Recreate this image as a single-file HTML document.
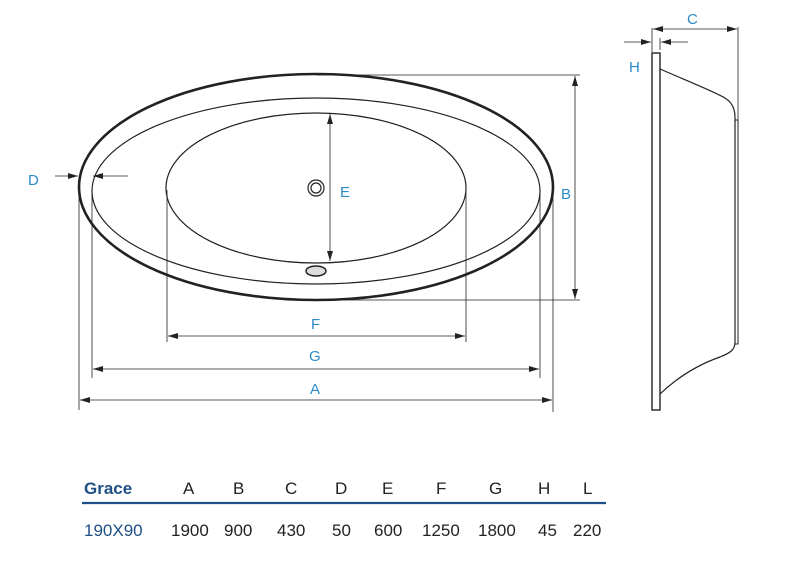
<!DOCTYPE html>
<html><head><meta charset="utf-8"><style>
html,body{margin:0;padding:0;background:#fff;width:800px;height:562px;overflow:hidden}
svg{display:block}
.l{font-family:"Liberation Sans",sans-serif;font-size:15px;fill:#2a8bc8}
.t{font-family:"Liberation Sans",sans-serif;font-size:17px;fill:#222}
.b{font-family:"Liberation Sans",sans-serif;font-size:17px;fill:#1f4f86}
</style></head><body>
<svg width="800" height="562" viewBox="0 0 800 562">
<defs>
<marker id="a" viewBox="0 0 10 6" refX="10" refY="3" markerWidth="10" markerHeight="6" orient="auto-start-reverse" markerUnits="userSpaceOnUse"><path d="M0,0L10,3L0,6z" fill="#222"/></marker>
</defs>
<g fill="none" stroke="#222">
<ellipse cx="316" cy="187" rx="237" ry="113" stroke-width="2.6"/>
<ellipse cx="316" cy="191" rx="224" ry="93" stroke-width="1.2"/>
<ellipse cx="316" cy="188" rx="150" ry="75" stroke-width="1.2"/>
<circle cx="316" cy="188" r="8" stroke-width="1.2"/>
<circle cx="316" cy="188" r="5" stroke-width="1.2"/>
<ellipse cx="316" cy="271" rx="10" ry="5" stroke-width="1.5" fill="#ddd"/>
<g stroke-width="0.8">
<line x1="330" y1="114" x2="330" y2="261" marker-start="url(#a)" marker-end="url(#a)"/>
<line x1="316" y1="75" x2="580" y2="75"/>
<line x1="300" y1="300" x2="580" y2="300"/>
<line x1="575" y1="76" x2="575" y2="299" marker-start="url(#a)" marker-end="url(#a)"/>
<line x1="79" y1="190" x2="79" y2="410"/>
<line x1="92" y1="190" x2="92" y2="378"/>
<line x1="167" y1="190" x2="167" y2="342"/>
<line x1="466" y1="190" x2="466" y2="342"/>
<line x1="540" y1="190" x2="540" y2="378"/>
<line x1="553" y1="190" x2="553" y2="412"/>
<line x1="168" y1="336" x2="465" y2="336" marker-start="url(#a)" marker-end="url(#a)"/>
<line x1="93" y1="369" x2="539" y2="369" marker-start="url(#a)" marker-end="url(#a)"/>
<line x1="80" y1="400" x2="552" y2="400" marker-start="url(#a)" marker-end="url(#a)"/>
<line x1="55" y1="176" x2="78" y2="176" marker-end="url(#a)"/>
<line x1="128" y1="176" x2="93" y2="176" marker-end="url(#a)"/>
<line x1="652" y1="28" x2="652" y2="52"/>
<line x1="738" y1="27" x2="738" y2="120"/>
<line x1="653" y1="29" x2="737" y2="29" marker-start="url(#a)" marker-end="url(#a)"/>
<line x1="660" y1="38" x2="660" y2="50"/>
<line x1="624" y1="42" x2="651" y2="42" marker-end="url(#a)"/>
<line x1="688" y1="42" x2="661" y2="42" marker-end="url(#a)"/>
</g>
<rect x="652" y="53" width="8" height="357" stroke-width="1.4"/>
<path d="M660,69 C690,82 715,92 725,98 C733,103 735,110 735,118 L735,342 C735,350 730,353 720,357 C700,364 680,375 660,394" stroke-width="1.2"/>
<rect x="735" y="120" width="3" height="224" stroke-width="1"/>
</g>
<text class="l" x="340" y="197">E</text>
<text class="l" x="561" y="199">B</text>
<text class="l" x="311" y="329">F</text>
<text class="l" x="309" y="361">G</text>
<text class="l" x="310" y="394">A</text>
<text class="l" x="28" y="185">D</text>
<text class="l" x="687" y="24">C</text>
<text class="l" x="629" y="72">H</text>
<text class="b" x="84" y="494" font-weight="bold">Grace</text>
<text class="t" x="183" y="494">A</text>
<text class="t" x="233" y="494">B</text>
<text class="t" x="285" y="494">C</text>
<text class="t" x="335" y="494">D</text>
<text class="t" x="382" y="494">E</text>
<text class="t" x="436" y="494">F</text>
<text class="t" x="489" y="494">G</text>
<text class="t" x="538" y="494">H</text>
<text class="t" x="583" y="494">L</text>
<line x1="82" y1="503" x2="606" y2="503" stroke="#1f4f86" stroke-width="2.2"/>
<text class="b" x="84" y="536">190X90</text>
<text class="t" x="171" y="536">1900</text>
<text class="t" x="224" y="536">900</text>
<text class="t" x="277" y="536">430</text>
<text class="t" x="332" y="536">50</text>
<text class="t" x="374" y="536">600</text>
<text class="t" x="422" y="536">1250</text>
<text class="t" x="478" y="536">1800</text>
<text class="t" x="538" y="536">45</text>
<text class="t" x="573" y="536">220</text>
</svg>
</body></html>
